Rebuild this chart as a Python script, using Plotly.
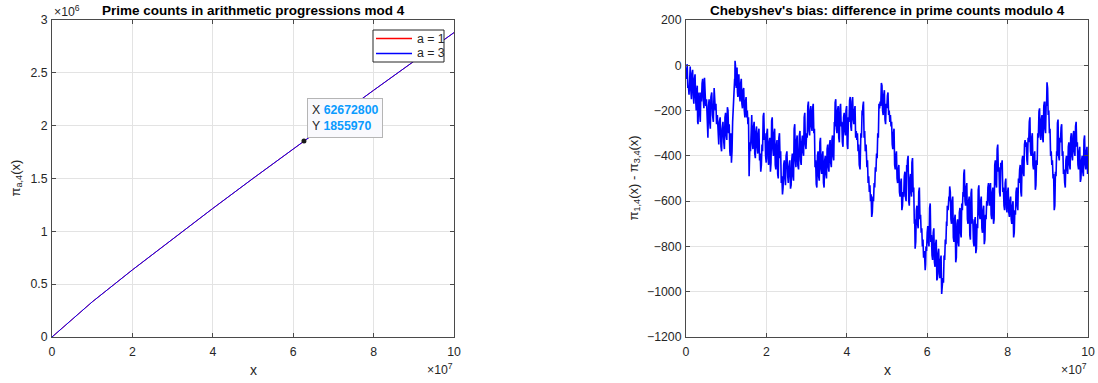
import numpy as np
import plotly.graph_objects as go

# ---------------- data ----------------
# Left plot: prime counts in progressions mod 4
count_x = [0, 1e7, 2e7, 3e7, 4e7, 5e7, 6e7, 7e7, 8e7, 9e7, 1e8]
count_a1 = [0, 332180, 635000, 928700, 1216600, 1500300, 1780600, 2058700, 2334600, 2608400, 2880504]
count_a3 = [0, 332398, 635400, 929000, 1216900, 1500700, 1781300, 2059300, 2335000, 2608700, 2880950]

tip_x = [62672800]
tip_y = [1855970]

legend_labels = ["a = 1", "a = 3"]
legend_colors = ["#ff0000", "#0000ff"]

# Right plot: pi_{1,4}(x) - pi_{3,4}(x), x in millions
bias_x_millions = [
    # 0 - 25
    0.0, 0.15, 0.3, 0.45, 0.6, 0.75, 0.9, 1.05, 1.2, 1.35, 1.5, 1.65, 1.8, 1.95, 2.1, 2.25, 2.4, 2.55, 2.7, 2.8,
    2.9, 3.0, 3.1, 3.25, 3.4, 3.55, 3.7, 3.85, 4.0, 4.15, 4.3, 4.45, 4.6, 4.75, 4.9, 5.1, 5.3, 5.45, 5.6, 5.75,
    5.9, 6.05, 6.2, 6.4, 6.6, 6.8, 7.0, 7.15, 7.3, 7.45, 7.6, 7.8, 8.0, 8.15, 8.3, 8.5, 8.7, 8.85, 9.0, 9.2,
    9.4, 9.55, 9.7, 9.85, 10.0, 10.15, 10.3, 10.45, 10.6, 10.75, 10.9, 11.0, 11.1, 11.2, 11.3, 11.45, 11.6, 11.75, 11.9, 12.0,
    12.1, 12.15, 12.2, 12.3, 12.4, 12.5, 12.6, 12.7, 12.8, 12.9, 13.0, 13.15, 13.3, 13.45, 13.6, 13.75, 13.9, 14.05, 14.2, 14.35,
    14.5, 14.65, 14.8, 14.95, 15.1, 15.25, 15.4, 15.55, 15.7, 15.8, 15.9, 16.05, 16.2, 16.35, 16.5, 16.65, 16.8, 16.95, 17.1, 17.25,
    17.4, 17.55, 17.7, 17.85, 18.0, 18.15, 18.3, 18.45, 18.6, 18.75, 18.9, 19.05, 19.2, 19.35, 19.5, 19.65, 19.8, 19.95, 20.1, 20.25,
    20.4, 20.55, 20.7, 20.85, 21.0, 21.15, 21.3, 21.45, 21.6, 21.75, 21.9, 22.05, 22.2, 22.35, 22.5, 22.65, 22.8, 22.95, 23.1, 23.25,
    23.4, 23.55, 23.7, 23.85, 24.0, 24.15, 24.3, 24.45, 24.6, 24.75, 24.9, 25.1, 25.3, 25.45,
    # 25 - 50
    25.6, 25.8, 26.0, 26.15, 26.3, 26.45, 26.6, 26.75, 26.9, 27.05, 27.2, 27.35, 27.5, 27.65, 27.8, 28.0, 28.2, 28.35, 28.5, 28.65,
    28.8, 28.95, 29.1, 29.25, 29.4, 29.55, 29.7, 29.85, 30.0, 30.15, 30.3, 30.45, 30.6, 30.75, 30.9, 31.05, 31.2, 31.35, 31.5, 31.65,
    31.8, 31.95, 32.1, 32.25, 32.4, 32.55, 32.7, 32.85, 33.0, 33.15, 33.3, 33.45, 33.6, 33.75, 33.9, 34.05, 34.2, 34.35, 34.5, 34.65,
    34.8, 34.95, 35.1, 35.25, 35.4, 35.55, 35.7, 35.85, 36.0, 36.15, 36.3, 36.45, 36.6, 36.75, 36.9, 37.0, 37.1, 37.25, 37.4, 37.55,
    37.7, 37.85, 38.0, 38.15, 38.3, 38.45, 38.6, 38.75, 38.9, 39.05, 39.2, 39.35, 39.5, 39.65, 39.8, 39.95, 40.1, 40.25, 40.4, 40.55,
    40.7, 40.85, 41.0, 41.15, 41.3, 41.45, 41.6, 41.75, 41.9, 42.05, 42.2, 42.35, 42.5, 42.65, 42.8, 42.95, 43.1, 43.3, 43.5, 43.65,
    43.8, 43.9, 44.0, 44.15, 44.3, 44.45, 44.6, 44.8, 45.0, 45.15, 45.3, 45.45, 45.6, 45.75, 45.9, 46.05, 46.2, 46.35, 46.5, 46.65,
    46.8, 46.95, 47.1, 47.25, 47.4, 47.55, 47.7, 47.85, 48.0, 48.15, 48.3, 48.45, 48.6, 48.75, 48.9, 49.05, 49.2, 49.35, 49.5, 49.65,
    49.8, 49.95, 50.1, 50.25, 50.4, 50.55,
    # 50 - 75
    50.7, 50.85, 51.0, 51.15, 51.3, 51.45, 51.6, 51.75, 51.9, 52.05, 52.2, 52.35, 52.5, 52.65, 52.8, 52.95, 53.1, 53.25, 53.4, 53.55,
    53.7, 53.85, 54.0, 54.15, 54.3, 54.45, 54.6, 54.75, 54.9, 55.0, 55.1, 55.25, 55.4, 55.55, 55.7, 55.85, 56.0, 56.1, 56.2, 56.35,
    56.5, 56.65, 56.8, 56.9, 57.0, 57.15, 57.3, 57.45, 57.6, 57.75, 57.9, 58.05, 58.2, 58.35, 58.5, 58.65, 58.8, 58.95, 59.1, 59.3,
    59.5, 59.6, 59.7, 59.85, 60.0, 60.15, 60.3, 60.45, 60.6, 60.75, 60.9, 61.05, 61.2, 61.35, 61.5, 61.65, 61.8, 61.95, 62.1, 62.25,
    62.4, 62.55, 62.7, 62.85, 63.0, 63.15, 63.3, 63.45, 63.6, 63.75, 63.9, 64.05, 64.2, 64.35, 64.5, 64.65, 64.8, 64.9, 65.0, 65.2,
    65.4, 65.5, 65.6, 65.75, 65.9, 66.05, 66.2, 66.35, 66.5, 66.65, 66.8, 66.95, 67.1, 67.25, 67.4, 67.55, 67.7, 67.85, 68.0, 68.15,
    68.3, 68.45, 68.6, 68.75, 68.9, 69.0, 69.1, 69.25, 69.4, 69.55, 69.7, 69.85, 70.0, 70.15, 70.3, 70.45, 70.6, 70.75, 70.9, 71.05,
    71.2, 71.35, 71.5, 71.65, 71.8, 71.95, 72.1, 72.25, 72.4, 72.55, 72.7, 72.85, 73.0, 73.15, 73.3, 73.45, 73.6, 73.75, 73.9, 74.05,
    74.2, 74.35, 74.5, 74.65, 74.8, 74.95, 75.1, 75.25,
    # 75 - 100
    75.4, 75.5, 75.6, 75.75, 75.9, 76.05, 76.2, 76.35, 76.5, 76.65, 76.8, 76.95, 77.1, 77.25, 77.4, 77.55, 77.7, 77.85, 78.0, 78.15,
    78.3, 78.4, 78.5, 78.65, 78.8, 78.95, 79.1, 79.25, 79.4, 79.55, 79.7, 79.85, 80.0, 80.15, 80.3, 80.45, 80.6, 80.75, 80.9, 81.05,
    81.2, 81.35, 81.5, 81.65, 81.8, 81.95, 82.1, 82.25, 82.4, 82.55, 82.7, 82.85, 83.0, 83.15, 83.3, 83.45, 83.6, 83.75, 83.9, 84.05,
    84.2, 84.35, 84.5, 84.65, 84.8, 84.95, 85.1, 85.25, 85.4, 85.55, 85.7, 85.85, 86.0, 86.15, 86.3, 86.45, 86.6, 86.75, 86.9, 87.05,
    87.2, 87.35, 87.5, 87.65, 87.8, 87.95, 88.1, 88.25, 88.4, 88.55, 88.7, 88.85, 89.0, 89.15, 89.3, 89.45, 89.6, 89.7, 89.8, 89.95,
    90.1, 90.25, 90.4, 90.55, 90.7, 90.85, 91.0, 91.15, 91.3, 91.45, 91.6, 91.75, 91.9, 92.05, 92.2, 92.3, 92.4, 92.55, 92.7, 92.85,
    93.0, 93.15, 93.3, 93.45, 93.6, 93.75, 93.9, 94.05, 94.2, 94.35, 94.5, 94.65, 94.8, 94.95, 95.1, 95.25, 95.4, 95.55, 95.7, 95.85,
    96.0, 96.15, 96.3, 96.45, 96.6, 96.75, 96.9, 97.05, 97.2, 97.35, 97.5, 97.65, 97.8, 97.95, 98.1, 98.25, 98.4, 98.55, 98.7, 98.85,
    99.0, 99.15, 99.3, 99.45, 99.6, 99.75, 99.9, 99.95, 100.0,
]
bias_values = [
    # 0 - 25
    -10, -60, 5, -100, -90, -130, -20, -5, -110, -150, -35, -20, -130, -170, -60, -40, -150, -200, -110, -90,
    -250, -260, -150, -120, -210, -250, -120, -160, -80, -60, -150, -190, -55, -100, -180, -150, -300, -320, -180, -150,
    -250, -280, -140, -120, -220, -250, -100, -140, -200, -170, -260, -220, -330, -350, -250, -230, -360, -380, -280, -250,
    -340, -370, -230, -210, -310, -330, -185, -200, -300, -260, -380, -400, -330, -300, -430, -380, -250, -180, -100, -140,
    -60, -90, 20, 0, -60, -100, -30, -10, -120, -140, -50, -40, -130, -160, -80, -60, -170, -190, -110, -100,
    -200, -230, -160, -140, -230, -200, -260, -230, -490, -420, -340, -380, -240, -220, -340, -370, -270, -250, -390, -410,
    -290, -270, -360, -390, -300, -280, -420, -390, -470, -440, -350, -380, -225, -210, -330, -300, -400, -430, -300, -280,
    -410, -440, -340, -320, -470, -430, -245, -230, -370, -400, -300, -280, -440, -460, -350, -330, -480, -500, -320, -300,
    -410, -380, -520, -490, -570, -540, -440, -420, -500, -530, -400, -380, -490, -520,
    # 25 - 50
    -450, -420, -545, -530, -420, -390, -490, -510, -280, -260, -420, -450, -330, -310, -440, -460, -310, -290, -420, -440,
    -340, -310, -380, -400, -230, -210, -350, -370, -300, -320, -180, -160, -290, -310, -200, -180, -270, -290, -190, -170,
    -300, -280, -450, -420, -525, -540, -400, -380, -490, -510, -340, -320, -460, -480, -400, -380, -520, -540, -420, -400,
    -480, -500, -370, -350, -450, -470, -350, -330, -430, -450, -330, -310, -400, -420, -250, -270, -165, -150, -280, -300,
    -200, -180, -320, -340, -190, -170, -270, -250, -340, -360, -230, -210, -290, -310, -200, -180, -350, -370, -230, -250,
    -155, -140, -270, -290, -160, -140, -240, -260, -200, -180, -320, -290, -330, -300, -380, -350, -440, -460, -300, -320,
    -200, -220, -180, -160, -320, -290, -380, -350, -450, -420, -520, -490, -560, -530, -600, -570, -670, -650, -580, -600,
    -520, -540, -450, -470, -390, -410, -300, -320, -170, -190, -160, -180, -78, -90, -200, -220, -130, -110, -240, -260,
    -170, -190, -135, -120, -220, -200,
    # 50 - 75
    -250, -220, -270, -250, -350, -370, -300, -280, -440, -460, -400, -380, -500, -520, -460, -440, -560, -580, -520, -500,
    -640, -620, -560, -580, -490, -470, -580, -600, -440, -470, -420, -400, -600, -620, -500, -480, -560, -580, -430, -410,
    -560, -540, -700, -680, -810, -780, -640, -620, -700, -720, -560, -540, -680, -660, -740, -720, -800, -770, -850, -820,
    -905, -880, -800, -820, -740, -710, -780, -800, -630, -610, -780, -750, -840, -860, -740, -720, -870, -890, -790, -770,
    -950, -940, -830, -810, -920, -940, -860, -840, -1010, -980, -940, -960, -840, -860, -770, -790, -690, -710, -620, -640,
    -580, -600, -535, -560, -680, -700, -600, -580, -760, -780, -680, -660, -870, -850, -700, -680, -780, -800, -650, -630,
    -740, -760, -610, -640, -560, -580, -480, -460, -600, -620, -540, -520, -680, -700, -600, -580, -750, -770, -565, -545,
    -700, -680, -780, -800, -690, -670, -830, -810, -700, -720, -550, -530, -660, -680, -600, -580, -720, -740, -640, -620,
    -790, -770, -660, -680, -600, -620, -540, -520,
    # 75 - 100
    -600, -620, -540, -520, -660, -680, -560, -540, -700, -680, -440, -420, -520, -540, -370, -350, -470, -450, -560, -580,
    -430, -460, -440, -420, -560, -540, -620, -640, -520, -500, -630, -650, -560, -540, -650, -670, -600, -580, -680, -700,
    -620, -600, -760, -740, -640, -660, -560, -540, -620, -640, -500, -520, -460, -440, -560, -580, -420, -400, -470, -490,
    -350, -330, -360, -340, -420, -440, -320, -340, -250, -230, -380, -400, -320, -300, -440, -460, -400, -380, -550, -530,
    -420, -440, -300, -320, -205, -190, -310, -330, -240, -220, -320, -340, -180, -160, -280, -300, -160, -180, -75, -100,
    -220, -200, -300, -280, -400, -380, -440, -420, -500, -480, -640, -620, -470, -490, -380, -400, -255, -240, -400, -420,
    -320, -340, -275, -260, -400, -380, -480, -460, -520, -540, -420, -400, -460, -480, -360, -340, -440, -460, -320, -300,
    -400, -420, -310, -290, -380, -400, -270, -250, -360, -340, -440, -460, -380, -360, -515, -500, -420, -400, -470, -490,
    -330, -310, -440, -460, -380, -360, -480, -470, -440,
]
assert len(bias_x_millions) == len(bias_values), (len(bias_x_millions), len(bias_values))

# tick definitions
x_tickvals = [0, 2e7, 4e7, 6e7, 8e7, 1e8]
x_ticktext = ["0", "2", "4", "6", "8", "10"]
left_y_tickvals = [0, 0.5e6, 1e6, 1.5e6, 2e6, 2.5e6, 3e6]
left_y_ticktext = ["0", "0.5", "1", "1.5", "2", "2.5", "3"]
right_y_tickvals = [200, 0, -200, -400, -600, -800, -1000, -1200]

titles = ["Prime counts in arithmetic progressions mod 4",
          "Chebyshev's bias: difference in prime counts modulo 4"]

# ---------------- layout geometry ----------------
W, H = 1098, 383
FONT = "Liberation Sans, Arial, Helvetica, sans-serif"
TXT = "#262626"
AXC = "#4a4a4a"
GRID = "#e3e3e3"
TICK_SIZE = 12.3


def px_x(p):
    return p / W


def px_y(p):
    return 1 - p / H


L_dom = [px_x(52), px_x(454)]
R_dom = [px_x(686), px_x(1088)]
Y_dom = [px_y(337), px_y(20)]

fig = go.Figure()

fig.add_trace(go.Scatter(x=count_x, y=count_a1, mode="lines", name=legend_labels[0],
                         line=dict(color=legend_colors[0], width=1), xaxis="x", yaxis="y"))
fig.add_trace(go.Scatter(x=count_x, y=count_a3, mode="lines", name=legend_labels[1],
                         line=dict(color=legend_colors[1], width=1), xaxis="x", yaxis="y"))
fig.add_trace(go.Scatter(x=tip_x, y=tip_y, mode="markers", showlegend=False,
                         marker=dict(color="#1a1a1a", size=5), xaxis="x", yaxis="y"))

bx = np.array(bias_x_millions) * 1e6
fig.add_trace(go.Scatter(x=bx, y=bias_values, mode="lines", showlegend=False,
                         line=dict(color="#0000ff", width=1.6), xaxis="x2", yaxis="y2"))

axis_common = dict(
    showline=True, linecolor=AXC, linewidth=1, mirror="ticks",
    ticks="inside", ticklen=4, tickcolor=AXC, tickwidth=1,
    showgrid=True, gridcolor=GRID, gridwidth=1, zeroline=False, automargin=False,
    tickfont=dict(family=FONT, size=TICK_SIZE, color=TXT),
)

fig.update_layout(
    width=W, height=H, autosize=False,
    margin=dict(l=0, r=0, t=0, b=0, pad=0, autoexpand=False),
    paper_bgcolor="white", plot_bgcolor="white",
    font=dict(family=FONT, color=TXT),
    xaxis=dict(domain=L_dom, range=[0, 1e8], tickvals=x_tickvals, ticktext=x_ticktext,
               anchor="y", ticklabelstandoff=3, **axis_common),
    yaxis=dict(domain=Y_dom, range=[0, 3e6], tickvals=left_y_tickvals, ticktext=left_y_ticktext,
               anchor="x", ticklabelstandoff=1, **axis_common),
    xaxis2=dict(domain=R_dom, range=[0, 1e8], tickvals=x_tickvals, ticktext=x_ticktext,
                anchor="y2", ticklabelstandoff=3, **axis_common),
    yaxis2=dict(domain=Y_dom, range=[-1200, 200], tickvals=right_y_tickvals,
                anchor="x2", ticklabelstandoff=1, **axis_common),
    showlegend=False,
)

shapes = []
ann = []

# custom legend box (MATLAB style)
leg_l, leg_r, leg_t, leg_b = 373, 444, 30, 62
shapes.append(dict(type="rect", xref="paper", yref="paper",
                   x0=px_x(leg_l), x1=px_x(leg_r), y0=px_y(leg_b), y1=px_y(leg_t),
                   fillcolor="white", line=dict(color="#262626", width=1), layer="above"))
for i, (lab, col) in enumerate(zip(legend_labels, legend_colors)):
    yy = 38.5 + i * 15
    shapes.append(dict(type="line", xref="paper", yref="paper",
                       x0=px_x(376), x1=px_x(412), y0=px_y(yy), y1=px_y(yy),
                       line=dict(color=col, width=1.3), layer="above"))
    ann.append(dict(text=lab, x=px_x(415), y=px_y(yy), xref="paper", yref="paper",
                    showarrow=False, xanchor="left", yanchor="middle",
                    font=dict(family=FONT, size=TICK_SIZE, color=TXT)))

# titles
for i, dom in enumerate((L_dom, R_dom)):
    ann.append(dict(text="<b>%s</b>" % titles[i], x=(dom[0] + dom[1]) / 2, y=px_y(10),
                    xref="paper", yref="paper", showarrow=False, xanchor="center", yanchor="middle",
                    font=dict(family=FONT, size=13.5, color="#000000")))
# exponent labels
ann.append(dict(text="×10<sup>6</sup>", x=px_x(52), y=px_y(11), xref="paper", yref="paper",
                showarrow=False, xanchor="left", yanchor="middle",
                font=dict(family=FONT, size=TICK_SIZE, color=TXT)))
for right_edge in (455, 1089):
    ann.append(dict(text="×10<sup>7</sup>", x=px_x(right_edge), y=px_y(369), xref="paper", yref="paper",
                    showarrow=False, xanchor="right", yanchor="middle",
                    font=dict(family=FONT, size=TICK_SIZE, color=TXT)))
# axis labels
for dom in (L_dom, R_dom):
    ann.append(dict(text="x", x=(dom[0] + dom[1]) / 2, y=px_y(370), xref="paper", yref="paper",
                    showarrow=False, xanchor="center", yanchor="middle",
                    font=dict(family=FONT, size=14, color=TXT)))
ann.append(dict(text="π<sub>a,4</sub>(x)", x=px_x(16), y=(Y_dom[0] + Y_dom[1]) / 2,
                xref="paper", yref="paper", showarrow=False, textangle=-90,
                xanchor="center", yanchor="middle", font=dict(family=FONT, size=13, color=TXT)))
ann.append(dict(text="π<sub>1,4</sub>(x) - π<sub>3,4</sub>(x)", x=px_x(634), y=(Y_dom[0] + Y_dom[1]) / 2,
                xref="paper", yref="paper", showarrow=False, textangle=-90,
                xanchor="center", yanchor="middle", font=dict(family=FONT, size=13, color=TXT)))
# data tip
ann.append(dict(
    text=("X <b><span style='color:#0a9bff'>%d</span></b><br>"
          "Y <b><span style='color:#0a9bff'>%d</span></b>") % (tip_x[0], tip_y[0]),
    x=tip_x[0], y=tip_y[0], xref="x", yref="y", showarrow=False,
    xanchor="left", yanchor="bottom", xshift=3, yshift=3, align="left",
    bgcolor="#f9f9fd", bordercolor="#b5b5b5", borderwidth=1, borderpad=4,
    font=dict(family=FONT, size=12.3, color=TXT)))

fig.update_layout(annotations=ann, shapes=shapes)

fig.write_html("out.html", config={"responsive": False, "displayModeBar": False},
               post_script="document.body.style.margin='0';document.body.style.overflow='hidden';")
